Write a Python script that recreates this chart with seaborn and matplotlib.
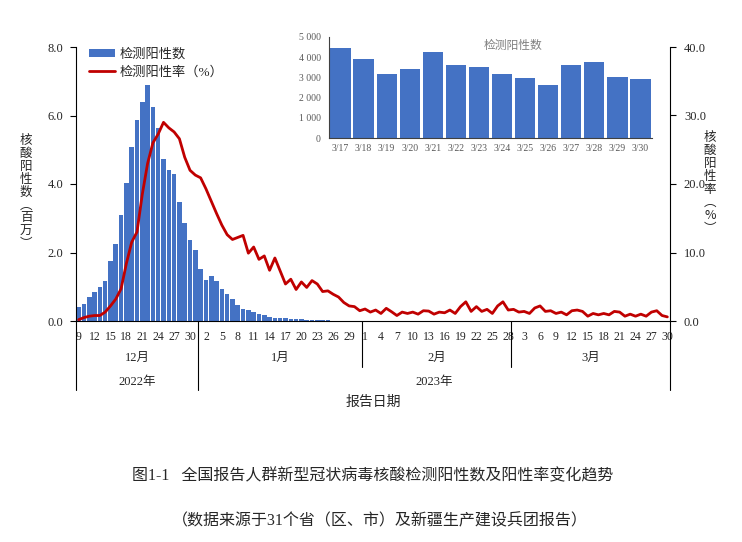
import numpy as np
import pandas as pd
import matplotlib
matplotlib.use("Agg")
import matplotlib.pyplot as plt
import seaborn as sns
from matplotlib.patches import Patch
from matplotlib.lines import Line2D
from matplotlib.ticker import FuncFormatter

# ---------------- data ----------------
start_date = "2022-12-09"
end_date = "2023-03-30"

# daily positives (millions)
positives_dec = [0.42, 0.50, 0.70, 0.85, 0.99, 1.18, 1.75, 2.26, 3.09, 4.02, 5.08, 5.86,
                 6.39, 6.90, 6.26, 5.64, 4.72, 4.42, 4.30, 3.46, 2.85, 2.36, 2.08]
positives_jan = [1.53, 1.21, 1.30, 1.17, 0.92, 0.80, 0.63, 0.46, 0.35, 0.33, 0.25, 0.21,
                 0.17, 0.13, 0.09, 0.08, 0.08, 0.06, 0.05, 0.045, 0.04, 0.03, 0.025, 0.02,
                 0.016, 0.013, 0.011, 0.010, 0.009, 0.008, 0.008]
positives_feb = [0.008, 0.007, 0.007, 0.007, 0.006, 0.006, 0.007,
                 0.006, 0.006, 0.006, 0.006, 0.006, 0.005, 0.006,
                 0.005, 0.005, 0.006, 0.006, 0.007, 0.007, 0.006,
                 0.006, 0.006, 0.006, 0.005, 0.006, 0.007, 0.006]
positives_mar_early = [0.006, 0.005, 0.005, 0.005, 0.005, 0.005, 0.005, 0.004,
                       0.004, 0.004, 0.004, 0.004, 0.004, 0.004, 0.004, 0.004]

# inset: 3/17 - 3/30 daily positives
inset_labels = ["3/17", "3/18", "3/19", "3/20", "3/21", "3/22", "3/23",
                "3/24", "3/25", "3/26", "3/27", "3/28", "3/29", "3/30"]
inset_positives = [4470, 3910, 3180, 3430, 4240, 3610, 3530,
                   3150, 2960, 2630, 3630, 3760, 3030, 2930]

# positivity rate (%)
rate_pct = [0.2, 0.5, 0.7, 0.8, 0.8, 1.3, 2.2, 3.2, 4.7, 8.4, 11.5, 13.0,
            18.5, 23.0, 26.0, 27.3, 29.0, 28.2, 27.6, 26.6, 23.9, 22.0, 21.3,
            20.9, 19.3, 17.5, 15.7, 14.0, 12.6, 11.9, 12.2, 12.5, 9.9, 10.8, 9.0,
            9.5, 7.4, 9.2, 7.3, 5.4, 6.1, 4.6, 5.7, 4.9, 5.9, 5.4, 4.3, 4.4, 3.9,
            3.5, 2.7, 2.2, 2.1, 1.5, 1.75, 1.3, 1.6, 1.1, 1.85, 1.35, 0.8, 1.3,
            1.1, 1.3, 1.0, 1.5, 1.45, 1.0, 1.3, 1.2, 1.6, 1.1, 2.1, 2.8, 1.4,
            2.1, 1.4, 1.7, 1.1, 2.2, 2.8, 1.6, 1.7, 1.3, 1.4, 1.1, 1.9, 2.2,
            1.4, 1.5, 1.1, 1.3, 0.9, 1.5, 1.6, 1.4, 0.7, 1.1, 0.9, 1.1, 0.9,
            1.4, 1.3, 0.7, 1.0, 0.7, 1.0, 0.7, 1.3, 1.5, 0.8, 0.6]

left_ticks = [0, 2, 4, 6, 8]
right_ticks = [0, 10, 20, 30, 40]
inset_ticks = [0, 1000, 2000, 3000, 4000, 5000]

dates = pd.date_range(start_date, end_date, freq="D")
positives = positives_dec + positives_jan + positives_feb + positives_mar_early + \
    [v / 1e6 for v in inset_positives]
df = pd.DataFrame({"date": dates, "pos": positives, "rate": rate_pct})
df["idx"] = np.arange(len(df))
n = len(df)

# ---------------- style ----------------
sns.set_style("white")
plt.rcParams["font.family"] = ["Liberation Serif", "Noto Sans CJK SC"]
plt.rcParams["axes.unicode_minus"] = False
BLUE = "#4472C4"
RED = "#C00000"

fig = plt.figure(figsize=(7.42, 5.42), dpi=100)
W, H = 742, 542
ax = fig.add_axes([76 / W, 1 - 321 / H, 594 / W, 274 / H])

sns.barplot(data=df, x="idx", y="pos", color=BLUE, saturation=1, width=0.86,
            linewidth=0, edgecolor="none", ax=ax, native_scale=False)
ax.set_xlim(-0.5, n - 0.5)
ax.set_ylim(left_ticks[0], left_ticks[-1])
ax.set_xlabel("")
ax.set_ylabel("")
ax.set_yticks(left_ticks)
ax.set_yticklabels([f"{v:.1f}" for v in left_ticks])
ax.tick_params(axis="y", length=4, width=0.8, pad=5, labelsize=9, color="black")

# day ticks
major = df["idx"].values[::3]
ax.set_xticks(major)
ax.set_xticklabels([str(d) for d in df["date"].dt.day.values[::3]])
ax.set_xticks(np.arange(-0.5, n, 1.0), minor=True)
ax.tick_params(axis="x", which="major", length=0, pad=7.5, labelsize=8.5)
ax.tick_params(axis="x", which="minor", length=15.5, width=0.7, color="black", direction="out")
for s in ["top", "right"]:
    ax.spines[s].set_visible(False)
for s in ["left", "bottom"]:
    ax.spines[s].set_color("black")
    ax.spines[s].set_linewidth(0.8)

# month / year separators
trans = ax.get_xaxis_transform()
month_change = df.index[df["date"].dt.month.diff().fillna(0) != 0].values - 0.5
year_change = df.index[df["date"].dt.year.diff().fillna(0) != 0].values - 0.5
year_lines = [-0.5, n - 0.5] + list(year_change)
for b in month_change:
    if b not in year_lines:
        ax.plot([b, b], [0, -0.168], transform=trans, color="black", lw=0.8, clip_on=False)
for b in year_lines:
    ax.plot([b, b], [0, -0.252], transform=trans, color="black", lw=0.8, clip_on=False)

month_names = {12: "12月", 1: "1月", 2: "2月", 3: "3月"}
for (y, m), g in df.groupby([df["date"].dt.year, df["date"].dt.month]):
    c = (g["idx"].min() + g["idx"].max()) / 2
    ax.text(c, -0.135, month_names[m], transform=trans, ha="center", va="center", fontsize=9)
for y, g in df.groupby(df["date"].dt.year):
    c = (g["idx"].min() + g["idx"].max()) / 2
    ax.text(c, -0.223, f"{y}年", transform=trans, ha="center", va="center", fontsize=9)
ax.text(0.5, -0.296, "报告日期", transform=ax.transAxes, ha="center", va="center", fontsize=10)

# rate line
ax2 = ax.twinx()
sns.lineplot(data=df, x="idx", y="rate", color=RED, linewidth=2.0, ax=ax2)
ax2.set_xlim(-0.5, n - 0.5)
ax2.set_ylim(right_ticks[0], right_ticks[-1])
ax2.set_ylabel("")
ax2.set_yticks(right_ticks)
ax2.set_yticklabels([f"{v:.1f}" for v in right_ticks])
ax2.tick_params(axis="y", length=4, width=0.8, pad=6, labelsize=9, color="black")
for s in ["top", "left", "bottom"]:
    ax2.spines[s].set_visible(False)
ax2.spines["right"].set_color("black")
ax2.spines["right"].set_linewidth(0.8)

handles = [Patch(facecolor=BLUE, edgecolor="none", label="检测阳性数"),
           Line2D([0], [0], color=RED, lw=2, label="检测阳性率（%）")]
ax2.legend(handles=handles, loc="upper left", bbox_to_anchor=(0.022, 0.995), frameon=False,
           fontsize=9.5, handlelength=2.0, handleheight=0.6, handletextpad=0.3,
           labelspacing=0.4, borderaxespad=0, borderpad=0)

# axis titles (vertical stacked)
fig.text(26 / W, 1 - 192 / H, "\n".join("核酸阳性数︵百万︶"), ha="center", va="center",
         fontsize=9, linespacing=1.0, family=["Noto Sans CJK SC"])
fig.text(710 / W, 1 - 183 / H, "\n".join("核酸阳性率︵%︶"), ha="center", va="center",
         fontsize=9, linespacing=1.0, family=["Noto Sans CJK SC"])

# ---------------- inset ----------------
axi = fig.add_axes([329 / W, 1 - 138 / H, 323 / W, 101 / H])
sns.barplot(x=inset_labels, y=inset_positives, color=BLUE, saturation=1, width=0.88,
            linewidth=0, edgecolor="none", ax=axi)
axi.set_xlim(-0.5, len(inset_labels) - 0.5)
axi.set_ylim(inset_ticks[0], inset_ticks[-1])
axi.set_yticks(inset_ticks)
axi.yaxis.set_major_formatter(FuncFormatter(lambda v, p: f"{int(v):,}".replace(",", " ")))
axi.set_xticks(np.arange(-0.5, len(inset_labels), 1.0), minor=True)
axi.tick_params(axis="y", length=3, width=0.7, pad=3, labelsize=7, labelcolor="#595959", color="#404040")
axi.tick_params(axis="x", which="major", length=0, pad=4, labelsize=7, labelcolor="#595959")
axi.tick_params(axis="x", which="minor", length=3, width=0.7, color="#404040")
for s in ["top", "right"]:
    axi.spines[s].set_visible(False)
for s in ["left", "bottom"]:
    axi.spines[s].set_color("#404040")
    axi.spines[s].set_linewidth(0.8)
axi.text(0.57, 0.91, "检测阳性数", transform=axi.transAxes, ha="center", va="center",
         fontsize=8.5, color="#7f7f7f")

# ---------------- captions ----------------
fig.text(373 / W, 1 - 476 / H, "图1-1   全国报告人群新型冠状病毒核酸检测阳性数及阳性率变化趋势",
         ha="center", va="center", fontsize=11.5)
fig.text(380 / W, 1 - 521 / H, "（数据来源于31个省（区、市）及新疆生产建设兵团报告）",
         ha="center", va="center", fontsize=11.5)

fig.savefig("out.png", dpi=100)
